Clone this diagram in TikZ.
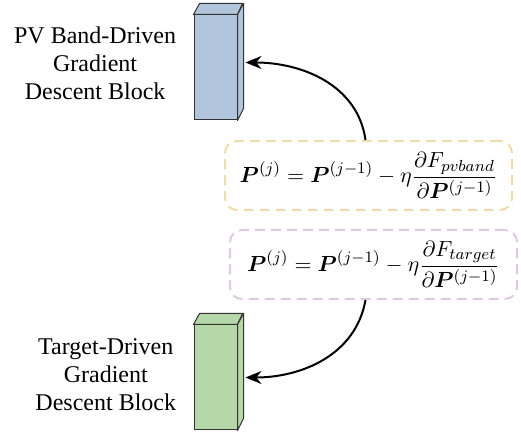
\documentclass[tikz,border=0pt]{standalone}
\usepackage{amsmath}
\usepackage{amssymb}
\usepackage{bm}
\usepackage{fontspec}
\setmainfont{Liberation Serif}
\usetikzlibrary{positioning,arrows.meta}

\definecolor{pvblue}{RGB}{177,198,221}
\definecolor{tggreen}{RGB}{182,215,168}
\definecolor{pvgold}{RGB}{240,220,170}
\definecolor{tgpurple}{RGB}{222,202,224}

\tikzset{
    block/.style={draw=black!80,line width=0.5pt,minimum width=21.5pt,minimum height=52.5pt,inner sep=0pt},
    face/.style={draw=black!80,line width=0.5pt,line join=round},
    blocktext/.style={align=center,inner sep=0pt,font=\fontsize{12}{14}\selectfont},
    eqbox/.style={line width=1pt,dash pattern=on 5pt off 3pt,rounded corners=6pt,minimum width=143.5pt,minimum height=34.5pt,font=\fontsize{11.2}{13}\selectfont},
    conn/.style={line width=1pt,-{Stealth[length=8pt,width=6.5pt]}}
}

\begin{document}
\begin{tikzpicture}[x=0.5pt,y=0.5pt]
            \useasboundingbox (0,0) rectangle (521,435);
            % blocks
            \node[block,fill=pvblue] (pvblock) at (215.5,367.5) {};
            \draw[face,fill=pvblue] (pvblock.north west) -- ++(6,11) -- ++(43,0) -- (pvblock.north east) -- cycle;
            \draw[face,fill=pvblue] (pvblock.north east) -- ++(6,11) -- ++(0,-105) -- (pvblock.south east) -- cycle;
            \node[block,fill=tggreen] (tgblock) at (215.5,57.5) {};
            \draw[face,fill=tggreen] (tgblock.north west) -- ++(6,11) -- ++(43,0) -- (tgblock.north east) -- cycle;
            \draw[face,fill=tggreen] (tgblock.north east) -- ++(6,11) -- ++(0,-105) -- (tgblock.south east) -- cycle;
            % labels
            \node[blocktext,left=8.5pt of pvblock,yshift=2pt] (pvlabel) {PV Band-Driven\\Gradient\\Descent Block};
            \node[blocktext,left=8.5pt of tgblock,yshift=1.5pt] (tglabel) {Target-Driven\\Gradient\\Descent Block};
            % update rules
            \node[eqbox,draw=pvgold] (pveq) at (368.5,259.5) {$\displaystyle \bm{P}^{(j)} = \bm{P}^{(j-1)} - \eta\frac{\partial F_{pvband}}{\partial \bm{P}^{(j-1)}}$};
            \node[eqbox,draw=tgpurple] (tgeq) at (373.5,170.5) {$\displaystyle \bm{P}^{(j)} = \bm{P}^{(j-1)} - \eta\frac{\partial F_{target}}{\partial \bm{P}^{(j-1)}}$};
            % arrows
            \draw[conn] ([xshift=-1.5pt]pveq.north) to[out=98,in=0] ([xshift=4pt,yshift=2.5pt]pvblock.east);
            \draw[conn] ([xshift=-4pt]tgeq.south) to[out=-100,in=0] ([xshift=4pt]tgblock.east);
\end{tikzpicture}
\end{document}
